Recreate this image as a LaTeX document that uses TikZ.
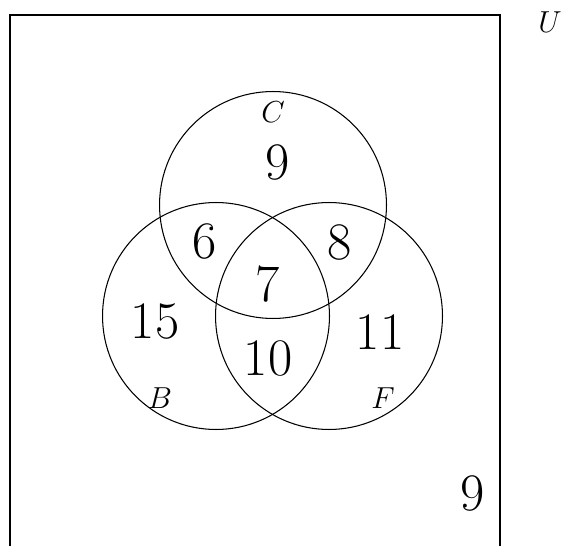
\documentclass[tikz,border=0pt]{standalone}
\usepackage{tikz}
\usetikzlibrary{positioning}

\begin{document}
\begin{tikzpicture}[
  x=0.02cm, y=-0.02cm,
  set/.style={circle, draw, line width=0.6pt, minimum size=4.54cm, inner sep=0pt},
  setname/.style={font=\fontsize{18}{18}\selectfont},
  count/.style={font=\fontsize{30}{30}\selectfont},
  frame/.style={line width=0.8pt}
]
  \useasboundingbox (0,0) rectangle (563,546);

  % universal set, open at the bottom
  \coordinate (ubl) at (10,546);
  \coordinate (utl) at (10,15);
  \coordinate (utr) at (500,15);
  \coordinate (ubr) at (500,546);
  \draw[frame] (ubl) -- (utl) -- (utr) -- (ubr);
  \node[setname] (u) at (550,22) {$U$};

  \node[set] (c) at (273,205) {};
  \node[set] (b) at (216,316) {};
  \node[set] (f) at (329,316) {};

  \node[setname] (cname) at (273,112) {$C$};
  \node[setname] (bname) at (160,398) {$B$};
  \node[setname] (fname) at (383,398) {$F$};

  % region counts
  \node[count] (conly) at (278,163) {9};
  \node[count] (cb) at (205,242) {6};
  \node[count] (cf) at (340,243) {8};
  \node[count] (cbf) at (268,284) {7};
  \node[count] (bonly) at (155,322) {15};
  \node[count] (bf) at (268,358) {10};
  \node[count] (fonly) at (380,332) {11};
  \node[count] (none) at (473,493) {9};
\end{tikzpicture}
\end{document}
